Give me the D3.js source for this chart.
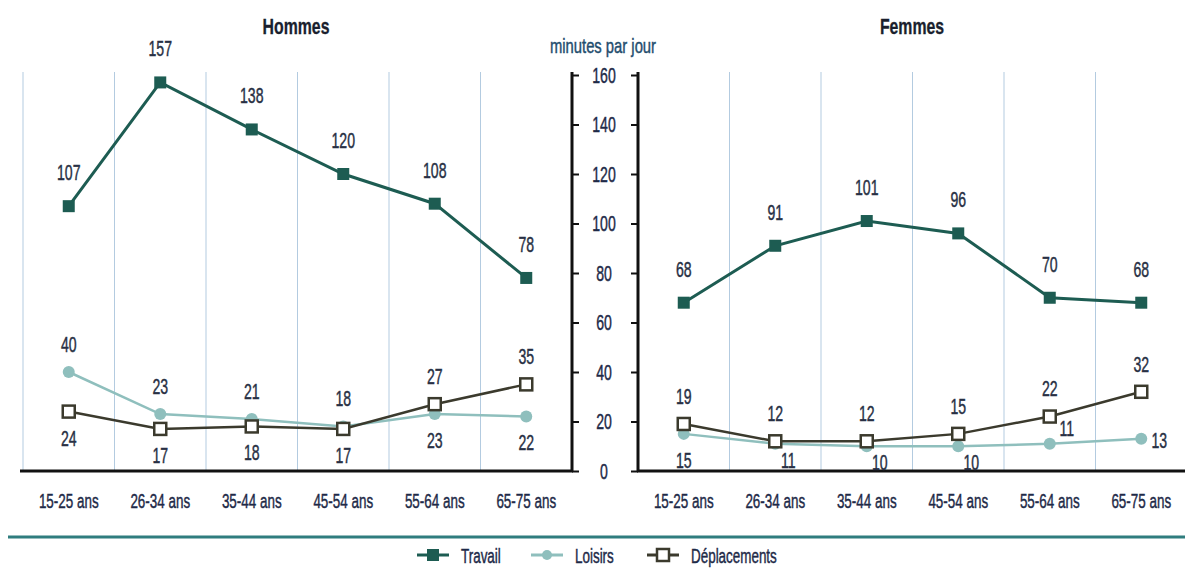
<!DOCTYPE html>
<html><head><meta charset="utf-8">
<script src="https://cdn.jsdelivr.net/npm/d3@7"></script>
<style>
body{margin:0;background:#fff;}
svg text{font-family:"Liberation Sans",Arial,sans-serif;}
</style></head>
<body><svg id="c" width="1185" height="569"></svg>
<script>
const categories = ["15-25 ans","26-34 ans","35-44 ans","45-54 ans","55-64 ans","65-75 ans"];
const hommesTravail = [107,157,138,120,108,78];
const hommesLoisirs = [40,23,21,18,23,22];
const hommesDeplacements = [24,17,18,17,27,35];
const femmesTravail = [68,91,101,96,70,68];
const femmesLoisirs = [15,11,10,10,11,13];
const femmesDeplacements = [19,12,12,15,22,32];
const yTicks = [0,20,40,60,80,100,120,140,160];
const seriesNames = ["Travail","Loisirs","Déplacements"];
// label placement per point for lower series
const hommesLoisirsPlace = ["above","above","above","above","below","below"];
const hommesDeplPlace = ["below","below","below","below","above","above"];
const femmesLoisirsPlace = ["below","belowRight","belowRight","belowRight","rightAbove","right"];
const femmesDeplPlace = ["above","above","above","above","above","above"];

const COL = {Travail:"#1d5c52", Loisirs:"#8fbfbd", "Déplacements":"#3b3a2d"};
const TXT = "#1e2a48";
const svg = d3.select("#c");
const y = d3.scaleLinear().domain([0,160]).range([471,75]);

function txt(g,x,yy,s,o={}){
  const f = o.fill||TXT;
  return g.append("text")
    .attr("transform",`translate(${x},${yy}) scale(${o.sx||0.64},1)`)
    .attr("dy","0.36em")
    .attr("text-anchor",o.anchor||"middle")
    .attr("font-size",o.size||22)
    .attr("font-weight",o.weight||"normal")
    .attr("fill",f).attr("stroke",f).attr("stroke-width",o.weight==="bold"?0.3:0.45)
    .text(s);
}

function panel(x0,x1,title,data,places,side){
  const x = d3.scaleBand().domain(categories).range([x0,x1]);
  const g = svg.append("g");
  const bounds = categories.map(c=>x(c)).filter(v=> side==="left" ? true : v>x0+1);
  g.selectAll("line.grid").data(bounds).join("line")
    .attr("x1",d=>d).attr("x2",d=>d).attr("y1",72).attr("y2",471)
    .attr("stroke","#b3cbe0").attr("stroke-width",1);
  g.append("line").attr("x1",side==="left"?20:x0-1).attr("x2",side==="left"?x1+1:1185)
    .attr("y1",471).attr("y2",471).attr("stroke","#111").attr("stroke-width",3);
  categories.forEach(c=>txt(g,x(c)+x.bandwidth()/2,500,c,{size:21}));
  txt(g,side==="left"?296:912,26,title,{size:22,weight:"bold",fill:"#1a1f2e",sx:0.72});
  const line = d3.line().x((d,i)=>x(categories[i])+x.bandwidth()/2).y(d=>y(d));
  const order = ["Loisirs","Déplacements","Travail"];
  order.forEach(name=>{
    const vals = data[name];
    g.append("path").attr("d",line(vals)).attr("fill","none")
      .attr("stroke",COL[name]).attr("stroke-width",name==="Travail"?3:2.5);
    const cx = i=>x(categories[i])+x.bandwidth()/2;
    if(name==="Loisirs"){
      g.selectAll(null).data(vals).join("circle").attr("cx",(d,i)=>cx(i)).attr("cy",d=>y(d))
        .attr("r",6).attr("fill",COL[name]);
    } else {
      const s = 12;
      g.selectAll(null).data(vals).join("rect")
        .attr("x",(d,i)=>cx(i)-s/2).attr("y",d=>y(d)-s/2).attr("width",s).attr("height",s)
        .attr("fill",name==="Travail"?COL[name]:"#fff")
        .attr("stroke",COL[name]).attr("stroke-width",name==="Travail"?0:2.5);
    }
  });
  seriesNames.forEach(name=>{
    const vals = data[name];
    vals.forEach((v,i)=>{
      const p = name==="Travail" ? "above" : places[name][i];
      let dx=0, dy=0;
      if(p==="above"){dy = name==="Travail"? -34 : -28;}
      else if(p==="below"){dy = 26;}
      else if(p==="belowRight"){dx=13; dy=16;}
      else if(p==="rightAbove"){dx=17; dy=-16;}
      else if(p==="right"){dx=18; dy=1;}
      txt(g,x(categories[i])+x.bandwidth()/2+dx,y(v)+dy,v,{fill:"#283044"});
    });
  });
  return x;
}

panel(23,572,"Hommes",
  {Travail:hommesTravail,Loisirs:hommesLoisirs,"Déplacements":hommesDeplacements},
  {Loisirs:hommesLoisirsPlace,"Déplacements":hommesDeplPlace},"left");
panel(638,1187,"Femmes",
  {Travail:femmesTravail,Loisirs:femmesLoisirs,"Déplacements":femmesDeplacements},
  {Loisirs:femmesLoisirsPlace,"Déplacements":femmesDeplPlace},"right");

const axR = svg.append("g").attr("transform","translate(572,0)")
  .call(d3.axisRight(y).tickValues(yTicks).tickSize(7).tickFormat(""));
const axL = svg.append("g").attr("transform","translate(638,0)")
  .call(d3.axisLeft(y).tickValues(yTicks).tickSize(7).tickFormat(""));
[axR,axL].forEach(a=>{
  a.select(".domain").remove();
  a.selectAll(".tick line").attr("stroke","#111").attr("stroke-width",2);
});
[572,638].forEach(xx=>svg.append("line").attr("x1",xx).attr("x2",xx).attr("y1",72).attr("y2",472)
  .attr("stroke","#111").attr("stroke-width",3));
yTicks.forEach(t=>txt(svg,604,y(t),t,{}));
txt(svg,603,46,"minutes par jour",{size:20,sx:0.74,fill:"#1f4d6e"});

svg.append("line").attr("x1",8).attr("x2",1185).attr("y1",537).attr("y2",537)
  .attr("stroke","#2f7d7e").attr("stroke-width",3);

const legendX = [433,547,663];
seriesNames.forEach((name,i)=>{
  const cx = legendX[i], cy = 555;
  const lg = svg.append("g");
  lg.append("line").attr("x1",cx-16).attr("x2",cx+16).attr("y1",cy).attr("y2",cy)
    .attr("stroke",COL[name]).attr("stroke-width",3);
  if(name==="Loisirs") lg.append("circle").attr("cx",cx).attr("cy",cy).attr("r",5).attr("fill",COL[name]);
  else lg.append("rect").attr("x",cx-6).attr("y",cy-6).attr("width",12).attr("height",12)
    .attr("fill",name==="Travail"?COL[name]:"#fff").attr("stroke",COL[name]).attr("stroke-width",name==="Travail"?0:2.5);
  txt(lg,cx+28,cy,name,{anchor:"start",size:21});
});
</script></body></html>
